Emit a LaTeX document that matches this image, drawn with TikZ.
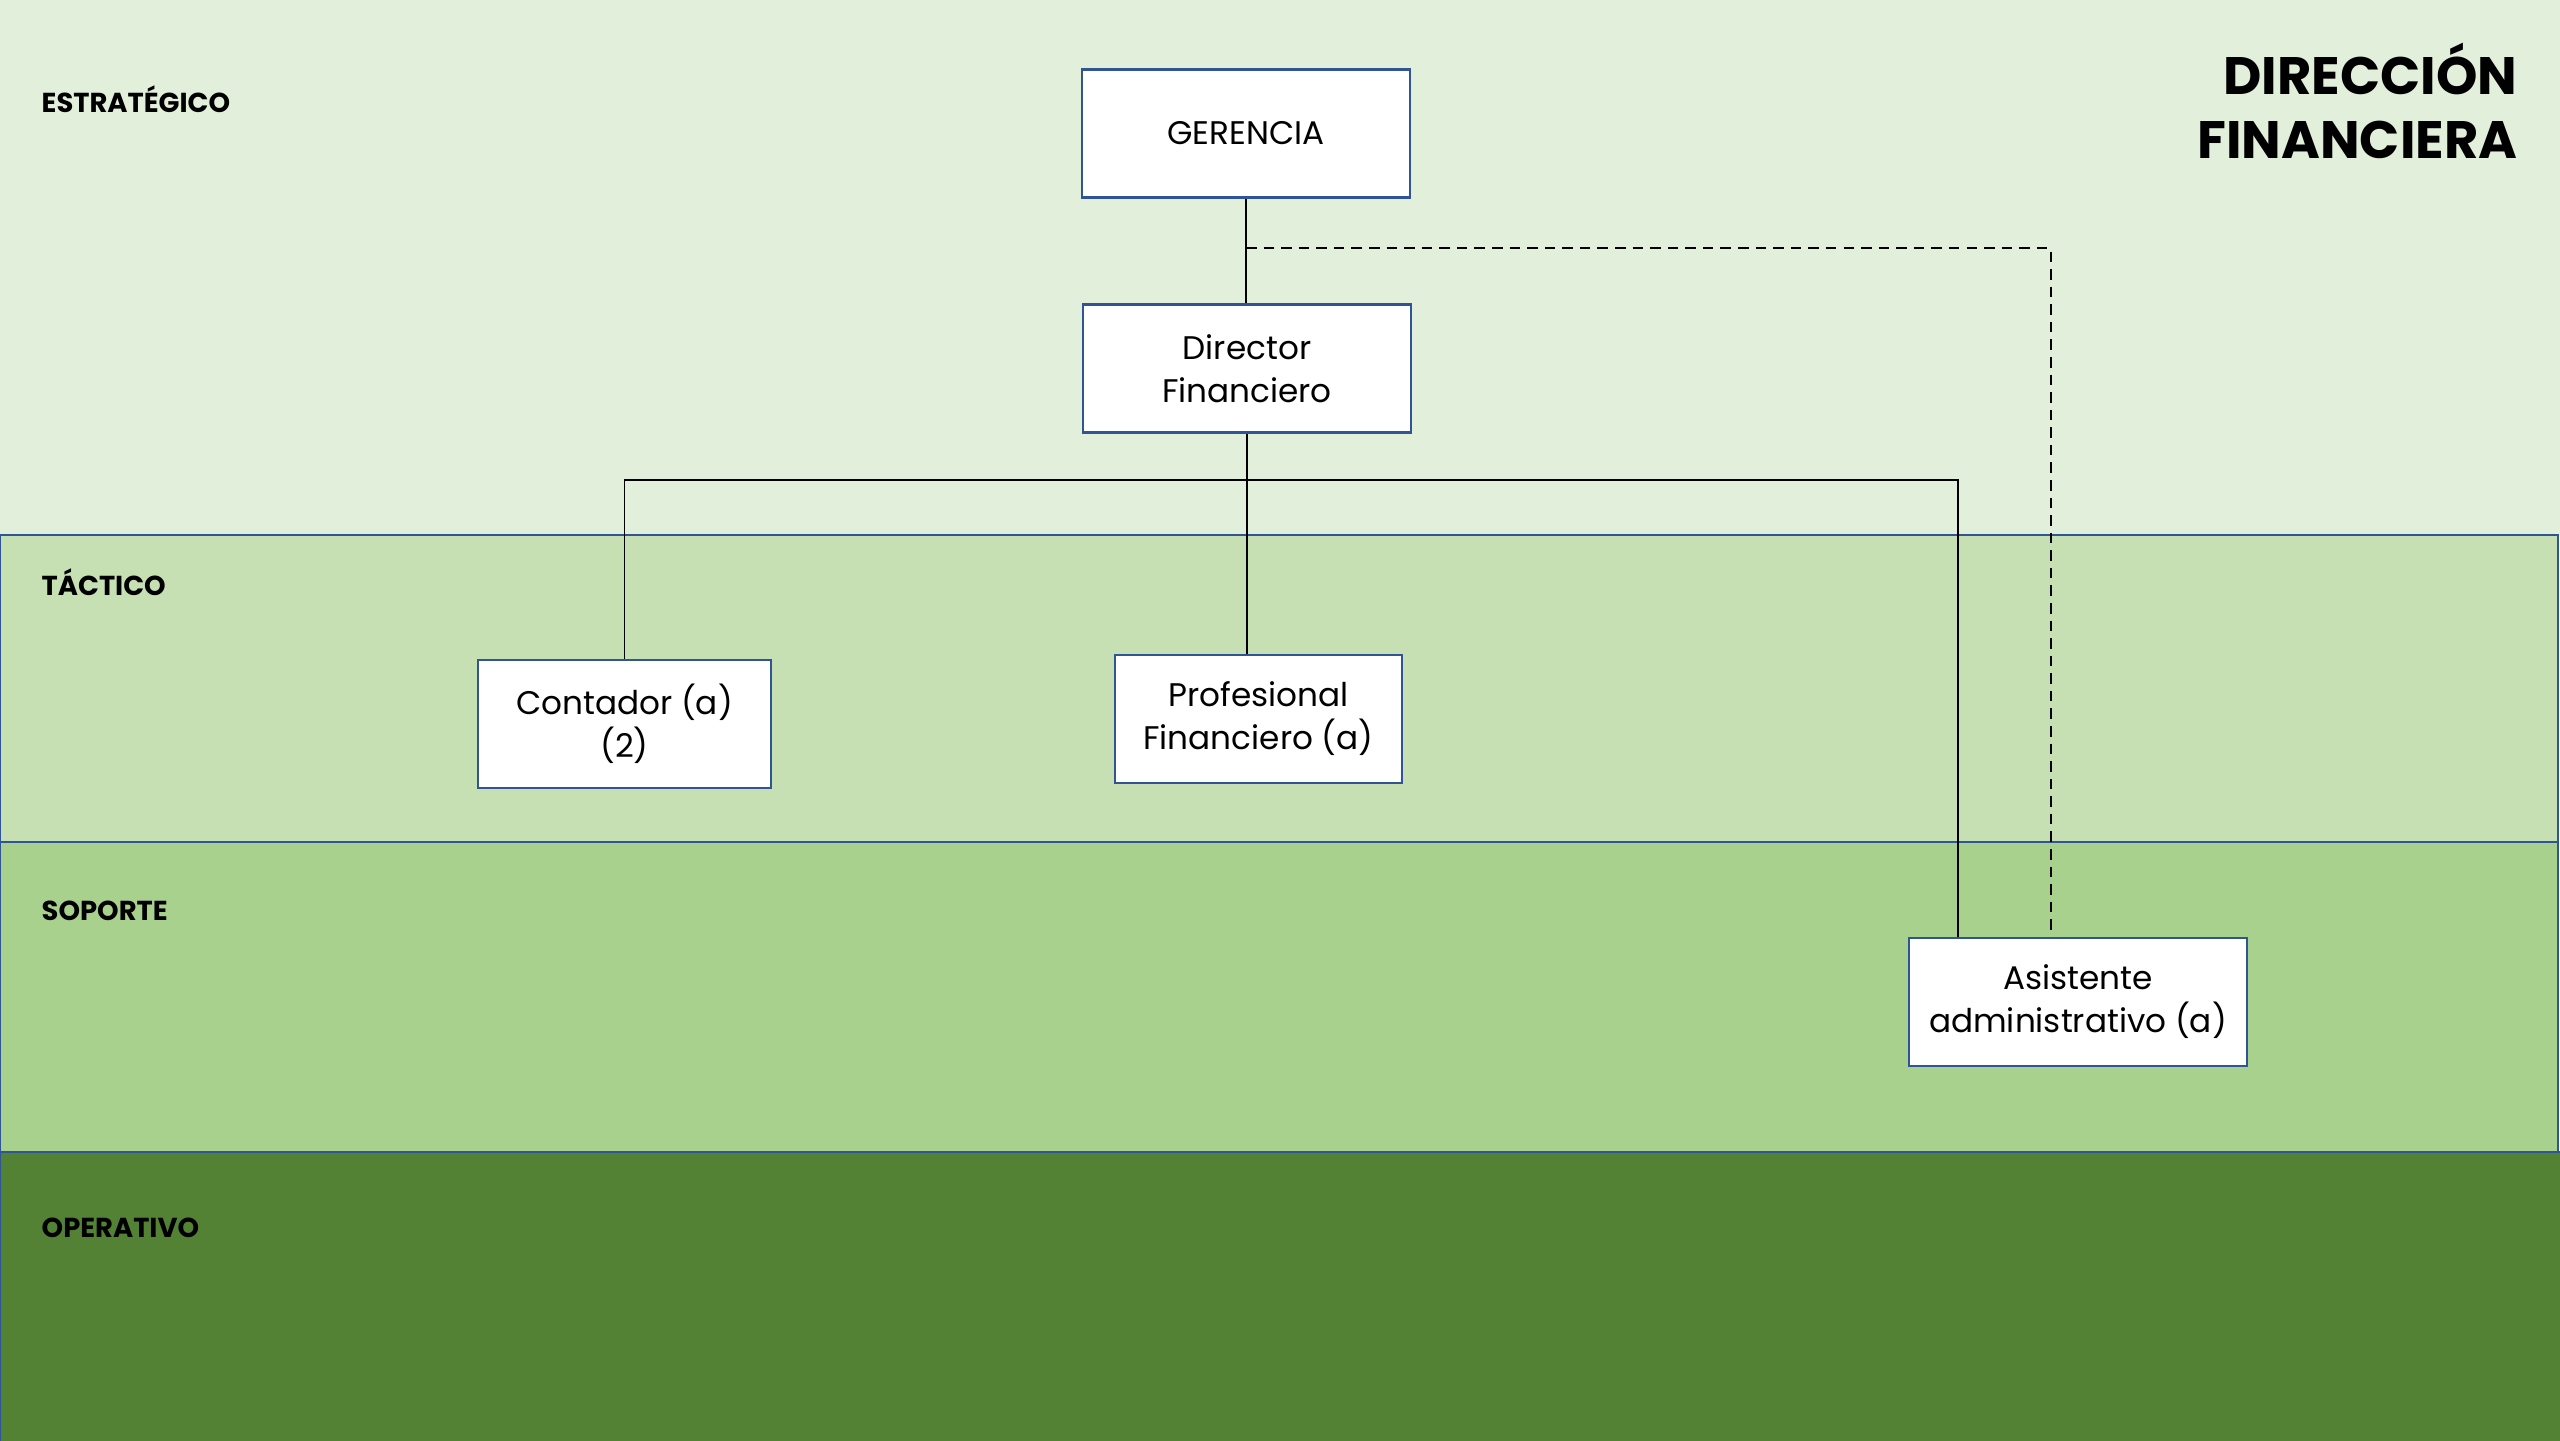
\documentclass[tikz,border=0pt]{standalone}
\usepackage{fontspec}
\setmainfont{Poppins}
\definecolor{estrat}{HTML}{E2EFDA}
\definecolor{tactic}{HTML}{C6E0B4}
\definecolor{soport}{HTML}{A9D18E}
\definecolor{operat}{HTML}{548235}
\definecolor{borde}{HTML}{2F5597}

\begin{document}
\begin{tikzpicture}

        \useasboundingbox (0,0) rectangle (25.6,14.4);

        % niveles
        \fill[estrat] (0,9.05) rectangle (25.6,14.4);
        \begin{scope}[draw=borde,line width=0.6pt]
          \filldraw[fill=tactic] (0,5.98) rectangle (25.58,9.05);
          \filldraw[fill=soport] (0,2.88) rectangle (25.58,5.98);
          \filldraw[fill=operat] (0,-0.1) rectangle (25.7,2.88);
        \end{scope}

        \begin{scope}[every node/.style={anchor=base west,inner sep=0,font=\fontsize{7.8}{9}\selectfont\bfseries}]
          \node (estrategico) at (0.41,13.27) {ESTRATÉGICO};
          \node (tactico)     at (0.41,8.44)  {TÁCTICO};
          \node (soporte)     at (0.41,5.19)  {SOPORTE};
          \node (operativo)   at (0.41,2.02)  {OPERATIVO};
        \end{scope}

        \node (titulo) [anchor=east,inner sep=0,align=right,font=\fontsize{15}{18.2}\selectfont\bfseries]
          at (25.18,13.39) {DIRECCIÓN\\FINANCIERA};

        \begin{scope}[every node/.style={draw=borde,fill=white,line width=0.7pt,align=center,
            inner sep=0,minimum height=1.28cm,font=\fontsize{9.3}{12.2}\selectfont}]
          \node (ger)  [minimum width=3.28cm] at (12.46,13.065) {GERENCIA};
          \node (dir)  [minimum width=3.28cm] at (12.47,10.715) {Director\\Financiero};
          \node (cont) [minimum width=2.93cm] at (6.245,7.16)   {Contador (a)\\(2)};
          \node (prof) [minimum width=2.87cm] at (12.585,7.21)  {Profesional\\Financiero (a)};
          \node (asis) [minimum width=3.38cm] at (20.78,4.38)   {Asistente\\administrativo (a)};
        \end{scope}

        \coordinate (bus)  at (12.46,9.60);
        \coordinate (lnea) at (12.46,11.92);

        \begin{scope}[line width=0.5pt]
          \draw (ger.south) -- (ger.south |- dir.north);
          \draw (dir.south) -- (dir.south |- prof.north);
          \draw (cont.north) |- (bus) -| ([xshift=0.5cm]asis.north west);
          \draw[densely dashed] (lnea) -| ([xshift=1.43cm,yshift=0.07cm]asis.north west);
        \end{scope}

      \end{tikzpicture}
\end{document}
